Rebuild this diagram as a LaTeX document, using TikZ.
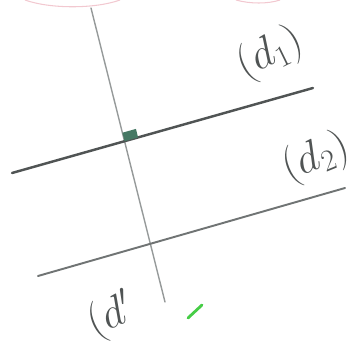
\documentclass[tikz,border=0pt]{standalone}
\usepackage{amsmath}
\usepackage{tikz}
\usetikzlibrary{calc}
\definecolor{inkDark}{RGB}{80, 84, 84}
\definecolor{inkGray}{RGB}{112, 116, 116}
\definecolor{inkLight}{RGB}{150, 154, 154}
\definecolor{inkTeal}{RGB}{70, 120, 100}
\definecolor{inkGreen}{RGB}{70, 205, 70}
\definecolor{inkPink}{RGB}{242, 200, 208}

\begin{document}
\begin{tikzpicture}[
  x=0.02cm,y=-0.02cm,
  line/.style={line cap=round},
  tag/.style={font=\fontsize{27}{30}\selectfont, text=inkDark, inner sep=0pt}
]
\path[use as bounding box] (0,0) rectangle (356,345);

\draw[inkPink, line width=.6pt] (25,0) .. controls (50,9) and (95,9) .. (120,0);
\draw[inkPink, line width=.6pt] (236,0) .. controls (250,4) and (268,4) .. (280,0);

\coordinate (dpa) at (91,8);
\coordinate (dpb) at (165,302);
\coordinate (d1a) at (12,173);
\coordinate (d1b) at (313,88);
\coordinate (d2a) at (38,276);
\coordinate (d2b) at (345,188);

\draw[line, inkLight, line width=.8pt] (dpa) -- (dpb);
\draw[line, inkDark, line width=1.4pt] (d1a) -- (d1b);
\draw[line, inkGray, line width=1.1pt] (d2a) -- (d2b);

\coordinate (I) at (intersection of d1a--d1b and dpa--dpb);
\coordinate (M1) at ($(I)!8pt!(d1b)$);
\coordinate (M2) at ($(I)!5pt!(dpa)$);
\fill[inkTeal] (I) -- (M1) -- ($(M1)+(M2)-(I)$) -- (M2) -- cycle;

\node[tag, rotate=26] (lab1) at (270,54) {$(d_1)$};
\node[tag, rotate=22] (lab2) at (316,158) {$(d_2)$};
\node[tag, rotate=24] (labp) at (111,317) {$(d'$};

\draw[line, inkGreen, line width=1.6pt] (188,318) -- (202,305);
\end{tikzpicture}
\end{document}
